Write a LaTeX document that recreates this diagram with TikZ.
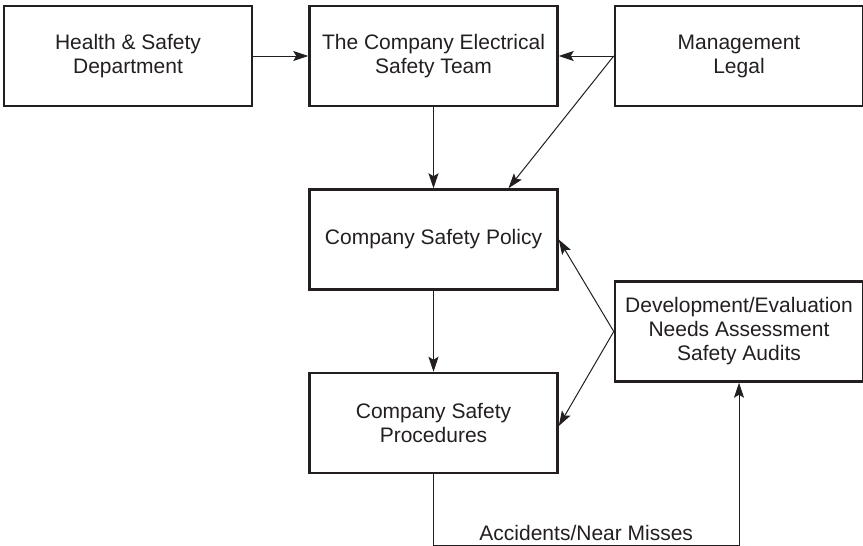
\documentclass[tikz,border=0pt]{standalone}
\usepackage{fontspec}
\setmainfont{Liberation Sans}
\usepackage{tikz}
\usetikzlibrary{arrows.meta, positioning}
\definecolor{ink}{HTML}{231F20}
\tikzstyle{block} = [rectangle, draw=ink, text=ink, line width=2.5pt, align=center, minimum height=100pt, minimum width=248pt, font=\fontsize{21}{24}\selectfont]
\tikzstyle{arrow} = [draw=ink, line width=1pt, -{Stealth[length=15pt, width=10pt, inset=3pt]}]

\begin{document}
\begin{tikzpicture}[x=1pt, y=-1pt]
        \useasboundingbox (0,0) rectangle (863,546);
        % Nodes (blocks)
        \node (hs) [block] at (128,56) {Health \& Safety\\Department};
        \node (team) [block, right=55pt of hs] {The Company Electrical\\Safety Team};
        \node (mgmt) [block, right=55pt of team] {Management\\Legal};
        \node (policy) [block, below=81pt of team] {Company Safety Policy};
        \node (proc) [block, below=81pt of policy] {Company Safety\\Procedures};
        \node (dev) [block, below=173pt of mgmt] {Development/Evaluation\\Needs Assessment\\Safety Audits};

        % Arrows
        \draw [arrow] (hs) -- (team);
        \draw [arrow] (mgmt.west) -- (team.east);
        \draw [arrow] (mgmt.west) -- ([xshift=75pt]policy.north);
        \draw [arrow] (team) -- (policy);
        \draw [arrow] (policy) -- (proc);
        \draw [arrow] (dev.west) -- (policy.east);
        \draw [arrow] (dev.west) -- ([yshift=-3pt]proc.east);
        \draw [arrow] (proc.south) -- ++(0,71) -| node[pos=0.25, above, text=ink, font=\fontsize{21}{24}\selectfont, yshift=1pt] {Accidents/Near Misses} (dev.south);
    \end{tikzpicture}
\end{document}
